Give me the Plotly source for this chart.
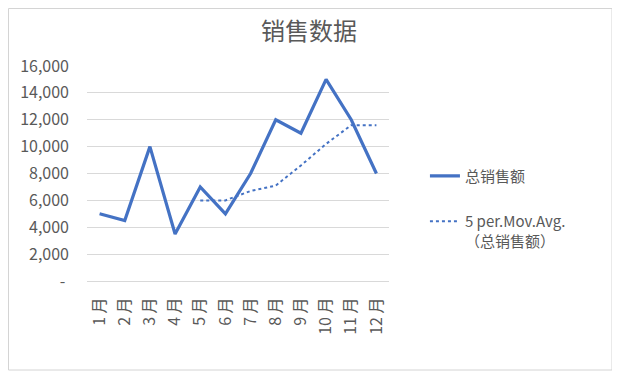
import plotly.graph_objects as go

months = ["1 月", "2 月", "3 月", "4 月", "5 月", "6 月", "7 月", "8 月", "9 月", "10 月", "11 月", "12 月"]
sales = [5000, 4500, 10000, 3500, 7000, 5000, 8000, 12000, 11000, 15000, 12000, 8000]
mov_avg = [None, None, None, None, 6000, 6000, 6700, 7100, 8600, 10200, 11600, 11600]
y_tickvals = [0, 2000, 4000, 6000, 8000, 10000, 12000, 14000, 16000]
y_ticktext = ["-\u00a0", "2,000", "4,000", "6,000", "8,000", "10,000", "12,000", "14,000", "16,000"]

BLUE = "#4472C4"
GRAY = "#595959"
FONT = "Noto Sans CJK SC"

W, H = 612, 367          # page body has an 8px margin
L, T, PW, PH = 79, 58, 302, 215

fig = go.Figure()
fig.add_trace(go.Scatter(
    x=months, y=sales, mode="lines", name="总销售额",
    line=dict(color=BLUE, width=3.2), legendgroup="a"))
fig.add_trace(go.Scatter(
    x=months, y=mov_avg, mode="lines", name="5 per.Mov.Avg.<br>（总销售额）",
    line=dict(color=BLUE, width=2, dash="dot"), legendgroup="b"))

fig.update_layout(
    width=W, height=H,
    margin=dict(l=L, r=W - L - PW, t=T, b=H - T - PH),
    paper_bgcolor="white", plot_bgcolor="white",
    font=dict(family=FONT, color=GRAY, size=15),
    title=dict(text="销售数据", x=0.492, xanchor="center", y=0.937, yanchor="middle",
               yref="container", font=dict(size=24, color=GRAY, family=FONT)),
    showlegend=True,
    legend=dict(x=1.119, xanchor="left", y=0.565, yanchor="top",
                font=dict(size=15, color=GRAY, family=FONT),
                tracegroupgap=23, valign="top", bgcolor="rgba(0,0,0,0)"),
    xaxis=dict(type="category", range=[-0.5, 11.5], showgrid=False, zeroline=False,
               showline=True, linecolor="#d9d9d9", linewidth=1,
               tickangle=-90, ticks="", ticklabelstandoff=9,
               tickfont=dict(size=16, color=GRAY, family=FONT), fixedrange=True),
    yaxis=dict(range=[0, 16000], tickvals=y_tickvals, ticktext=y_ticktext,
               showgrid=True, gridcolor="#d9d9d9", gridwidth=1, zeroline=False,
               showline=False, ticks="", ticklabelstandoff=17,
               tickfont=dict(size=16, color=GRAY, family=FONT), fixedrange=True),
    shapes=[dict(type="rect", xref="paper", yref="paper",
                 x0=(0.5 - L) / PW, x1=(604 - L) / PW,
                 y0=(T + PH - 362) / PH, y1=(T + PH - 0.5) / PH,
                 line=dict(color="#d4d4d4", width=1), fillcolor="rgba(0,0,0,0)", layer="below")],
)

fig.write_html("out.html")
